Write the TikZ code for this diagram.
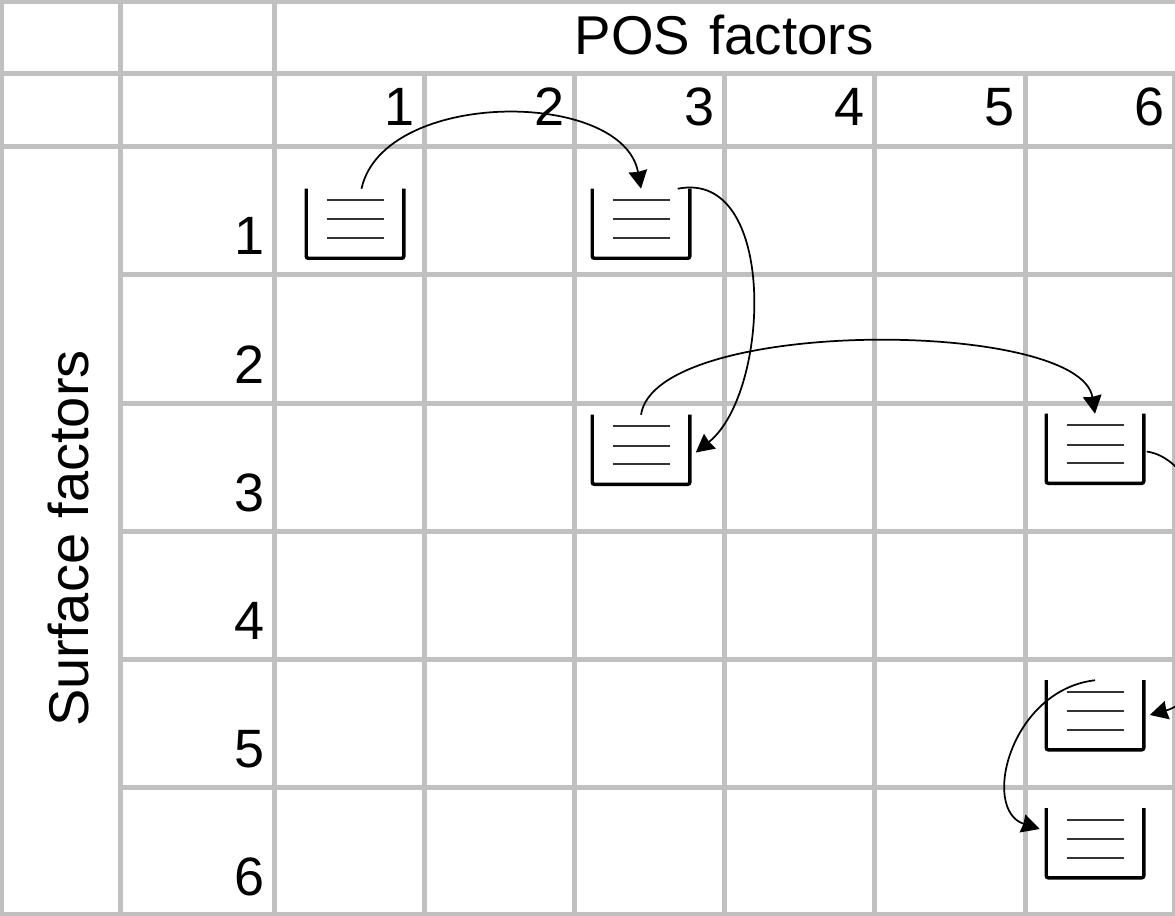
\documentclass[tikz,border=0pt]{standalone}
\usepackage{fontspec}
\setmainfont{Liberation Sans}
\usetikzlibrary{calc}
\usetikzlibrary{arrows.meta}
\definecolor{gridgray}{HTML}{C0C0C0}
\tikzset{
  gridline/.style={draw=gridgray, line width=3.75pt},
  headtext/.style={inner sep=0pt, font=\fontsize{41}{48}\selectfont},
  indexnum/.style={inner sep=0pt, font=\fontsize{40.5}{48}\selectfont, anchor=base east},
  traybox/.style={inner sep=0pt, minimum width=72.75pt, minimum height=51.75pt},
  trayedge/.style={draw=black, line width=2.6pt, rounded corners=1.5pt},
  trayrule/.style={draw=black!80, line width=1.5pt},
  jump/.style={draw=black, line width=1.3pt, -{Stealth[length=13.5pt, width=14pt, inset=0.7pt]}}
}
\newcommand{\traybin}[3]{
  \node[traybox] (#1) at (#2,#3) {};
  \draw[trayedge] (#1.north west) -- (#1.south west) -- (#1.south east) -- (#1.north east);
  \draw[trayrule] (#2-28.5,#3-23.5) -- (#2+28.5,#3-23.5);
  \draw[trayrule] (#2-28.5,#3-4) -- (#2+28.5,#3-4);
  \draw[trayrule] (#2-28.5,#3+14.5) -- (#2+28.5,#3+14.5);
}

\begin{document}
\begin{tikzpicture}[x=0.75pt, y=-0.75pt]
\useasboundingbox (0,0) rectangle (1175,916);
\clip (0,0) rectangle (1175,916);
% table
\draw[gridline] (0,1.5) -- (1175,1.5);
\draw[gridline] (0,74) -- (1175,74);
\draw[gridline] (0,146.5) -- (1175,146.5);
\draw[gridline] (120,275) -- (1175,275);
\draw[gridline] (120,403) -- (1175,403);
\draw[gridline] (120,531) -- (1175,531);
\draw[gridline] (120,659) -- (1175,659);
\draw[gridline] (120,787) -- (1175,787);
\draw[gridline] (0,914.5) -- (1175,914.5);
\draw[gridline] (1.5,0) -- (1.5,916);
\draw[gridline] (120.5,0) -- (120.5,916);
\draw[gridline] (274.5,0) -- (274.5,916);
\draw[gridline] (424.5,74) -- (424.5,916);
\draw[gridline] (574.5,74) -- (574.5,916);
\draw[gridline] (724.5,74) -- (724.5,916);
\draw[gridline] (874.5,74) -- (874.5,916);
\draw[gridline] (1025,74) -- (1025,916);
\draw[gridline] (1174.5,74) -- (1174.5,916);
% headings
\node[headtext] (pos) at (724,35) {POS\hspace{3pt} factors};
\node[headtext, font=\fontsize{42}{48}\selectfont, rotate=90, anchor=base] (surface) at (88,538.5) {Surface factors};
\node[indexnum] (col_1) at (414.5,126) {1};
\node[indexnum] (col_2) at (565,126) {2};
\node[indexnum] (col_3) at (715,126) {3};
\node[indexnum] (col_4) at (865,126) {4};
\node[indexnum] (col_5) at (1015,126) {5};
\node[indexnum] (col_6) at (1165,126) {6};
\node[indexnum] (row_1) at (264.5,255) {1};
\node[indexnum] (row_2) at (265,383) {2};
\node[indexnum] (row_3) at (265,511) {3};
\node[indexnum] (row_4) at (265,639) {4};
\node[indexnum] (row_5) at (265,767) {5};
\node[indexnum] (row_6) at (265,895) {6};
% trays
\traybin{tray_11}{355}{223.5}
\traybin{tray_13}{641}{223.5}
\traybin{tray_33}{641}{449.5}
\traybin{tray_36}{1095}{448.5}
\traybin{tray_56}{1095}{715}
\traybin{tray_66}{1095}{843}
% jumps
\draw[jump] ($(tray_11.north)+(6.5,0)$) .. controls +(22,-100) and +(-18,-100) .. (tray_13.north);
\draw[jump] ($(tray_13.north east)+(-12,0)$) .. controls +(100,-20) and +(75,-60) .. ($(tray_33.east)+(6,3)$);
\draw[jump] (tray_33.north) .. controls +(15,-98) and +(-15,-95) .. (tray_36.north);
\draw[jump] ($(tray_36.east)+(3,3)$) .. controls +(83,13) and +(90,-25) .. ($(tray_56.east)+(6,0)$);
\draw[jump] (tray_56.north) .. controls +(-85,10) and +(-59,-19) .. ($(tray_66.west)+(-6.5,-14)$);
\end{tikzpicture}
\end{document}
